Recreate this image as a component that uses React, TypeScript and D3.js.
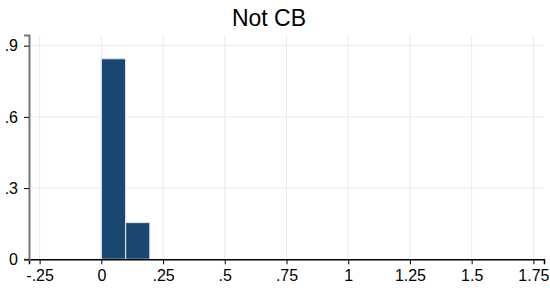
import * as d3 from 'd3';
import React, {useEffect, useRef} from 'react';

// histogram bins (left edges) and fractions
const binStarts = [0, 0.0982];
const binWidth = 0.0982;
const fractions = [0.845, 0.155];

const xTicks = [-0.25, 0, 0.25, 0.5, 0.75, 1, 1.25, 1.5, 1.75];
const xTickLabels = ['-.25', '0', '.25', '.5', '.75', '1', '1.25', '1.5', '1.75'];
const yTicks = [0, 0.3, 0.6, 0.9];
const yTickLabels = ['0', '.3', '.6', '.9'];

const App = () => {
  const svgRef = useRef<SVGSVGElement>(null);

  useEffect(() => {
    const svg = d3.select(svgRef.current);
    svg.selectAll('*').remove();
    const width = 550, height = 288;
    const margin = {top: 35, right: 6, bottom: 28.7, left: 29};
    const font = 'Liberation Sans, Arial, sans-serif';

    const x = d3.scaleLinear().domain([-0.293, 1.793]).range([margin.left, width - margin.right]);
    const y = d3.scaleLinear().domain([0, 0.945]).range([height - margin.bottom, margin.top]);

    svg.append('rect').attr('width', width).attr('height', height).attr('fill', '#fff');

    // grid
    svg.append('g').selectAll('line').data(xTicks).enter().append('line')
      .attr('x1', d => x(d)).attr('x2', d => x(d))
      .attr('y1', y(0.945)).attr('y2', y(0))
      .attr('stroke', '#eaeaea').attr('stroke-width', 1);
    svg.append('g').selectAll('line').data(yTicks.slice(1)).enter().append('line')
      .attr('x1', x(-0.293)).attr('x2', x(1.793))
      .attr('y1', d => y(d)).attr('y2', d => y(d))
      .attr('stroke', '#eaeaea').attr('stroke-width', 1);

    // bars
    svg.append('g').selectAll('rect').data(fractions).enter().append('rect')
      .attr('x', (d, i) => x(binStarts[i]))
      .attr('width', x(binWidth) - x(0))
      .attr('y', d => y(d))
      .attr('height', d => y(0) - y(d))
      .attr('fill', '#1a476f')
      .attr('stroke', '#d7e2ec')
      .attr('stroke-width', 1.2);

    // x axis
    const xAxis = svg.append('g').attr('transform', `translate(0,${y(0)})`)
      .call(d3.axisBottom(x).tickValues(xTicks).tickSize(5).tickPadding(5)
        .tickFormat((d, i) => xTickLabels[i]));
    xAxis.select('.domain').attr('stroke', '#000').attr('stroke-width', 1.5);
    xAxis.selectAll('.tick line').attr('stroke', '#000');
    xAxis.selectAll('text').attr('font-size', 16).attr('fill', '#000')
      .attr('font-family', font);

    // y axis
    const yAxis = svg.append('g').attr('transform', `translate(${x(-0.293)},0)`)
      .call(d3.axisLeft(y).tickValues(yTicks).tickSize(5).tickPadding(6)
        .tickFormat((d, i) => yTickLabels[i]));
    yAxis.select('.domain').attr('stroke', '#777').attr('stroke-width', 2);
    yAxis.selectAll('.tick line').attr('stroke', '#000');
    yAxis.selectAll('text').attr('font-size', 16).attr('fill', '#000')
      .attr('font-family', font);

    // title
    svg.append('text')
      .attr('x', 269).attr('y', 26)
      .attr('text-anchor', 'middle')
      .attr('font-size', 23)
      .attr('font-family', font)
      .text('Not CB');
  }, []);

  return (
    <svg ref={svgRef} width="550" height="288" style={{position: 'absolute', left: 0, top: 0}}></svg>
  );
};

export default App;
